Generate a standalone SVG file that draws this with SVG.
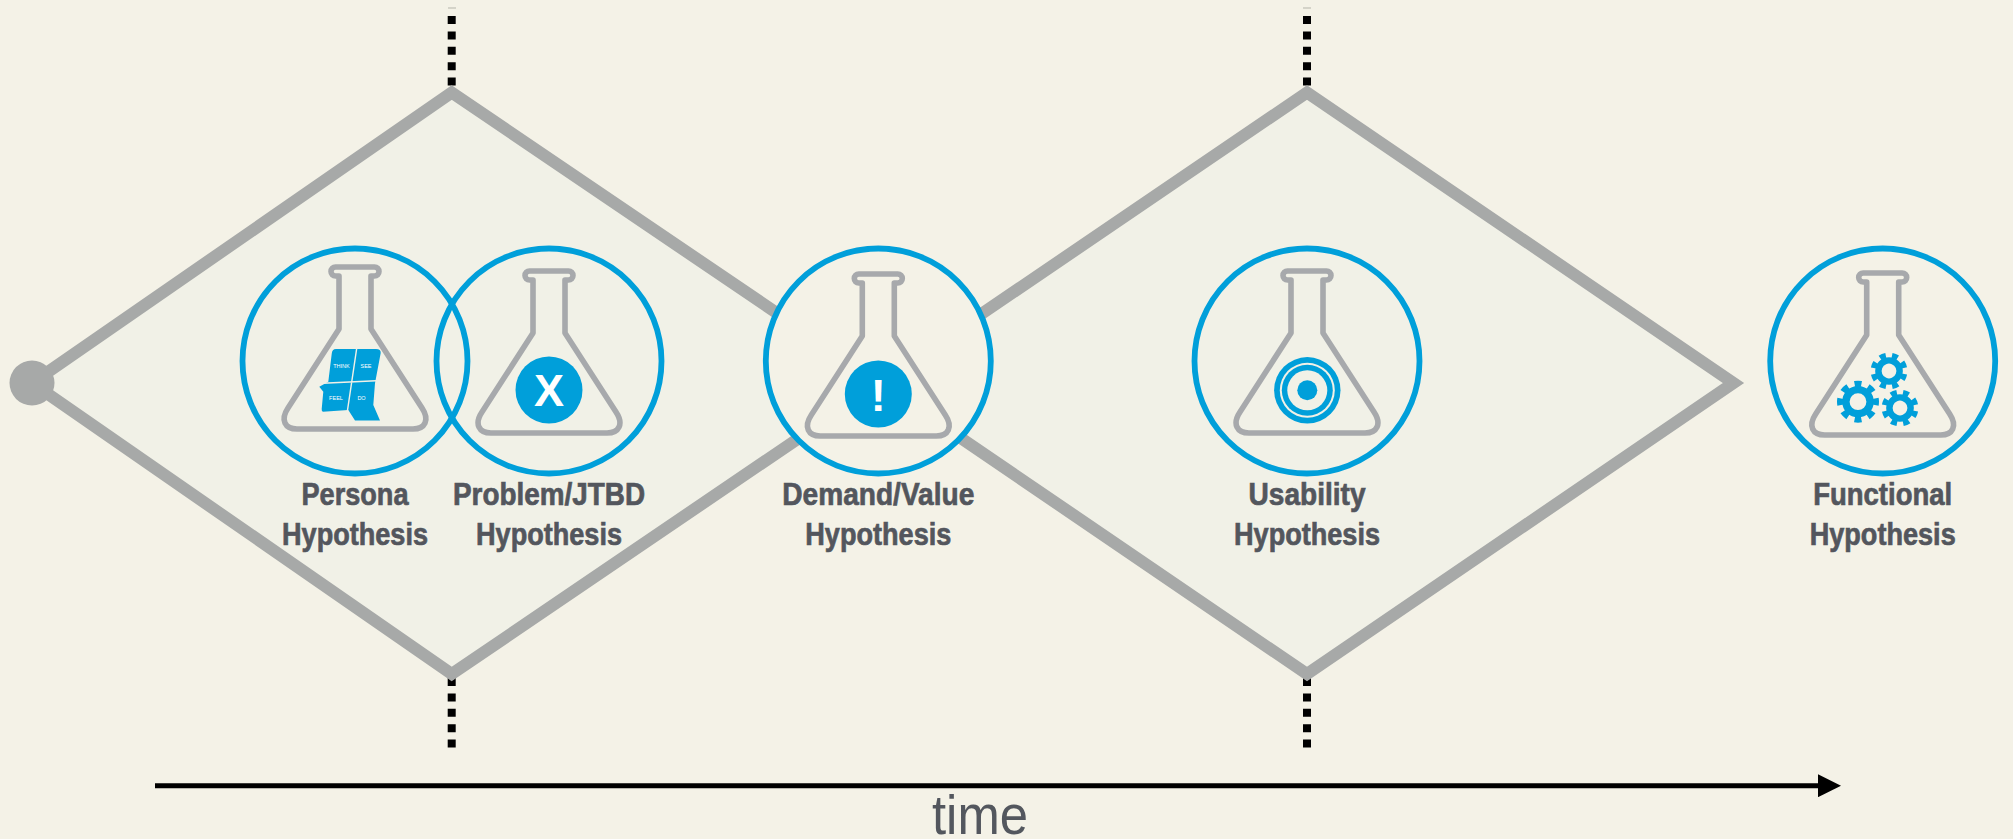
<svg xmlns="http://www.w3.org/2000/svg" width="2013" height="839" viewBox="0 0 2013 839">
<style>
.ring{fill:none;stroke:#009fda;stroke-width:5.8}
.fl{fill:none;stroke:#a7a9ac;stroke-width:5.6;stroke-linejoin:round}
.lb{font-family:"Liberation Sans Narrow","Liberation Sans",sans-serif;font-weight:700;font-size:32px;fill:#53565d;stroke:#53565d;stroke-width:.7;text-anchor:middle}
.dot{stroke:#000;stroke-width:8;stroke-dasharray:8 7.4;fill:none}
.dia{fill:none;stroke:#a7a9a8;stroke-width:12;stroke-linejoin:miter}
.blue{fill:#009fda}
.sym{font-family:"Liberation Sans",sans-serif;font-weight:700;font-size:45px;fill:#fff;text-anchor:middle}
.tiny{font-family:"Liberation Sans",sans-serif;font-size:5.5px;fill:#fff;text-anchor:middle}
</style>
<defs>
<path id="flask" class="fl" d="M-16,66V13H-19.5a4.5,4.5 0 0 1 0,-9H19.5a4.5,4.5 0 0 1 0,9H16V66L67,145C75,157 70,166 58,166H-58C-70,166 -75,157 -67,145L-16,66Z"/>
<g id="gear" fill="none" stroke="#009fda">
<circle r="11.5" stroke-width="7"/>
<circle r="17" stroke-width="6" pathLength="80" stroke-dasharray="5 5" stroke-dashoffset="2.5"/>
</g>
<marker id="ah" markerUnits="userSpaceOnUse" markerWidth="24" markerHeight="23" refX="0" refY="11.5" orient="auto"><path d="M0,0L23,11.5L0,23Z" fill="#000"/></marker>
</defs>
<rect id="background" width="2013" height="839" fill="#f4f2e7"/>
<g id="connectors">
<path d="M32,383L451.7,92.5L880,383L451.7,674Z" fill="#f1f1e7"/>
<path d="M880,383L1307,92.5L1733.5,383L1307,674Z" fill="#f1f1e7"/>
<path class="dot" d="M451.7,16V86"/>
<path class="dot" d="M451.7,678V750"/>
<path class="dot" d="M1307,16V86"/>
<path class="dot" d="M1307,678V750"/>
<path d="M448,8h8M1303,8h8" stroke="#b5b5ab" stroke-width="1" fill="none"/>
<path class="dia" d="M32,383L451.7,92.5L880,383L1307,92.5L1733.5,383L1307,674L880,383L451.7,674Z"/>
<path d="M155,785.7H1818" stroke="#000" stroke-width="5" fill="none" marker-end="url(#ah)"/>
</g>
<g id="start"><circle cx="32" cy="383" r="22.5" fill="#a7a9a8"/></g>
<g id="persona">
<circle class="ring" cx="355" cy="361" r="112.5"/>
<use href="#flask" x="355" y="263"/>
<path class="blue" d="M336,349H376Q381,349 380.700,353L375,383.300L373.300,405L380,420.500H355L348.300,410L323,411.700Q321.500,411.700 321.700,409L323.300,391.700L319.300,386.700L328.300,381.700L331.700,354Q332,349 336,349Z"/>
<path d="M356.700,348.300L347.300,411.700M322.700,383.300L376,380.700" stroke="#f1f1e7" stroke-width="1.4" fill="none"/>
<text class="tiny" x="341.500" y="368">THINK</text><text class="tiny" x="366" y="368">SEE</text>
<text class="tiny" x="336" y="400">FEEL</text><text class="tiny" x="361.500" y="400">DO</text>
<text class="lb" x="355" y="505" textLength="107" lengthAdjust="spacingAndGlyphs">Persona</text>
<text class="lb" x="355" y="545" textLength="146" lengthAdjust="spacingAndGlyphs">Hypothesis</text>
</g>
<g id="problem">
<circle class="ring" cx="549" cy="361" r="112.5"/>
<use href="#flask" x="549" y="267"/>
<circle class="blue" cx="549" cy="390" r="33.5"/>
<text class="sym" x="549" y="406">X</text>
<text class="lb" x="549" y="505" textLength="192" lengthAdjust="spacingAndGlyphs">Problem/JTBD</text>
<text class="lb" x="549" y="545" textLength="146" lengthAdjust="spacingAndGlyphs">Hypothesis</text>
</g>
<g id="demand">
<circle class="ring" cx="878.3" cy="361" r="112.5" style="fill:#f4f2e7"/>
<use href="#flask" x="878.3" y="270"/>
<circle class="blue" cx="878.3" cy="394" r="33.5"/>
<text class="sym" x="878.3" y="411">!</text>
<text class="lb" x="878.3" y="505" textLength="192" lengthAdjust="spacingAndGlyphs">Demand/Value</text>
<text class="lb" x="878.3" y="545" textLength="146" lengthAdjust="spacingAndGlyphs">Hypothesis</text>
</g>
<g id="usability">
<circle class="ring" cx="1307" cy="361" r="112.5"/>
<use href="#flask" x="1307" y="267"/>
<circle cx="1307.3" cy="390.3" r="33.2" class="blue"/>
<circle cx="1307.3" cy="390.3" r="27.5" fill="#f1f1e7"/>
<circle cx="1307.3" cy="390.3" r="25.5" class="blue"/>
<circle cx="1307.3" cy="390.3" r="20" fill="#f1f1e7"/>
<circle cx="1307.3" cy="390.3" r="10" class="blue"/>
<text class="lb" x="1307" y="505" textLength="117" lengthAdjust="spacingAndGlyphs">Usability</text>
<text class="lb" x="1307" y="545" textLength="146" lengthAdjust="spacingAndGlyphs">Hypothesis</text>
</g>
<g id="functional">
<circle class="ring" cx="1882.7" cy="361" r="112.5"/>
<use href="#flask" x="1882.7" y="269"/>
<use href="#gear" transform="translate(1858,401.7) scale(1.05)"/>
<use href="#gear" transform="translate(1889,371) rotate(22) scale(.92)"/>
<use href="#gear" transform="translate(1900,408) rotate(22) scale(.92)"/>
<text class="lb" x="1882.7" y="505" textLength="139" lengthAdjust="spacingAndGlyphs">Functional</text>
<text class="lb" x="1882.7" y="545" textLength="146" lengthAdjust="spacingAndGlyphs">Hypothesis</text>
</g>
<text id="time" x="980" y="834" font-family="'Liberation Sans Narrow','Liberation Sans',sans-serif" font-size="56" fill="#53575e" text-anchor="middle" textLength="96" lengthAdjust="spacingAndGlyphs">time</text>
</svg>
